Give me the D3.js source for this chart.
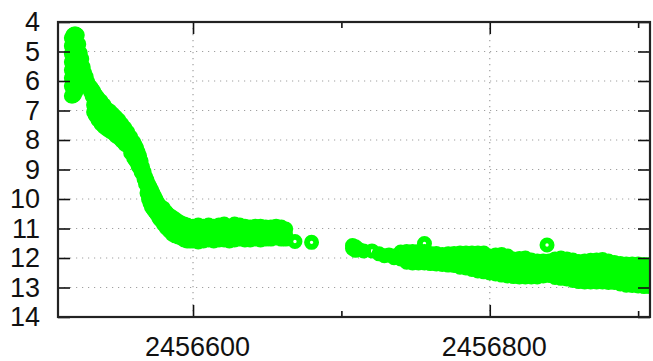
<!DOCTYPE html>
<html><head><meta charset="utf-8">
<script src="https://cdn.jsdelivr.net/npm/d3@7"></script>
<style>html,body{margin:0;padding:0;background:#fff;} svg{display:block;}</style>
</head><body><svg id="chart" width="653" height="361"></svg>
<script>
// ---- data (times are JD - JD0, magnitudes) ----
const JD0 = 2456000;
const xDomain = [2456509, 2456908];
const yDomain = [4, 14];
const yTicks = [4, 5, 6, 7, 8, 9, 10, 11, 12, 13, 14];
const xMajorTicks = [2456600, 2456800];
const xMinorTicks = [2456700, 2456900];

// nightly observations: [day, [magnitudes]]
const riseAndDecline = [
  [518,[4.54,4.81,5.08,5.36,5.63,5.90,6.17,6.51]],
  [519,[4.44,4.71,4.98,5.25,5.53,5.80,6.07,6.31,6.51]],
  [520,[4.41,4.68,4.95,5.22,5.49,5.76,6.03,6.27,6.47]],
  [521,[4.41,4.68,4.95,5.22,5.49,5.76,6.03,6.37]],
  [522,[4.44,4.71,4.98,5.25,5.53,5.80,6.03,6.24]],
  [523,[4.75,5.02,5.29,5.56,5.83,6.10]],
  [524,[5.05,5.29,5.53,5.76,5.97]],
  [525,[5.25,5.49,5.73,5.97]],
  [526,[5.53,5.76,5.97]],
  [527,[5.73,6.00]],
  [528,[5.86,6.10]],
  [529,[6.03,6.20]],
  [530,[6.17,6.27]],
  [531,[6.20,6.37]],
  [532,[6.27,6.51]],
  [533,[6.34,6.58,6.81,7.05]],
  [534,[6.44,6.68,6.92,7.15]],
  [535,[6.51,6.75,6.98,7.22]],
  [536,[6.58,6.81,7.08,7.32]],
  [538,[6.68,6.95,7.22,7.46]],
  [540,[6.81,7.05,7.32,7.56]],
  [542,[6.95,7.19,7.42,7.63]],
  [544,[7.02,7.25,7.49,7.70]],
  [546,[7.12,7.36,7.56,7.76]],
  [548,[7.22,7.42,7.66,7.86]],
  [550,[7.32,7.53,7.73,7.93]],
  [552,[7.46,7.66,7.86,8.03]],
  [554,[7.59,7.80,7.97,8.14]],
  [556,[7.73,7.90,8.07,8.20]],
  [558,[7.90,8.07,8.27,8.44]],
  [560,[8.07,8.24,8.44,8.61]],
  [561,[8.17,8.41,8.68]],
  [562,[8.27,8.51,8.75]],
  [563,[8.41,8.64,8.88]],
  [564,[8.54,8.75,8.95]],
  [565,[8.71,8.92,9.08]],
  [566,[8.92,9.15]],
  [567,[9.08,9.32]],
  [568,[9.25,9.49]],
  [569,[9.36,9.56,9.80]],
  [570,[9.49,9.73,10.00]],
  [571,[9.59,9.86,10.14]],
  [572,[9.69,9.97,10.27]],
  [573,[9.80,10.07,10.34]],
  [574,[9.90,10.17,10.41]],
  [575,[10.00,10.24,10.47]],
  [576,[10.10,10.34,10.54]],
  [577,[10.20,10.44,10.64]],
  [578,[10.24,10.47,10.71]],
  [580,[10.31,10.58,10.85]],
  [582,[10.44,10.71,10.98]],
  [584,[10.54,10.81,11.08]],
  [586,[10.61,10.88,11.19]],
  [588,[10.68,10.98,11.25]],
  [590,[10.75,11.02,11.29]],
  [592,[10.81,11.08,11.32]],
  [594,[10.85,11.12,11.39]],
  [596,[10.88,11.15,11.42]],
  [598,[10.92,11.15,11.42]]
];

const plateau = [
  [600,[10.92,11.15,11.42]],
  [603.5,[10.88,11.15,11.46]],
  [607,[10.92,11.19,11.42]],
  [610.5,[10.88,11.15,11.39]],
  [614,[10.92,11.15,11.42]],
  [617.5,[10.88,11.12,11.39]],
  [621,[10.85,11.12,11.39]],
  [624.5,[10.92,11.15,11.42]],
  [628,[10.85,11.12,11.39]],
  [631.5,[10.88,11.12,11.36]],
  [635,[10.92,11.15,11.39]],
  [638.5,[10.95,11.15,11.39]],
  [642,[10.92,11.12,11.36]],
  [645.5,[10.92,11.15,11.39]],
  [649,[10.95,11.15,11.36]],
  [652.5,[10.95,11.15,11.36]],
  [656,[10.92,11.12,11.32]],
  [659.5,[10.95,11.15,11.36]],
  [662.5,[11.02,11.22,11.36]],
  [668.7,[11.44]],
  [679.9,[11.47]]
];

const lateDecline = [
  [707.5,[11.58,11.68]], [709.5,[11.62,11.74]], [711.5,[11.70]], [715,[11.76]],
  [720.6,[11.76]], [725.4,[11.86]], [729,[11.92]], [732.1,[11.90]], [735.5,[11.93,11.99]],
  [740,[11.80,12.03]],
  [744,[11.78,11.97,12.14]],
  [748,[11.78,11.97,12.17]],
  [752,[11.78,11.97,12.17]],
  [756,[11.51,11.78,11.97,12.17]],
  [760,[11.85,12.02,12.19]],
  [764,[11.85,12.03,12.20]],
  [768,[11.88,12.05,12.22]],
  [772,[11.86,12.05,12.24]],
  [776,[11.85,12.03,12.25]],
  [780,[11.83,12.00,12.15,12.31]],
  [784,[11.83,12.00,12.17,12.34]],
  [788,[11.83,12.02,12.20,12.39]],
  [792,[11.83,12.03,12.24,12.44]],
  [796,[11.83,12.04,12.26,12.47]],
  [800,[11.93,12.12,12.32,12.51]],
  [804,[11.90,12.11,12.33,12.54]],
  [808,[11.88,12.11,12.35,12.58]],
  [812,[11.93,12.16,12.38,12.61]],
  [816,[12.03,12.23,12.43,12.63]],
  [820,[12.02,12.23,12.43,12.64]],
  [824,[12.00,12.21,12.43,12.64]],
  [828,[12.07,12.26,12.45,12.64]],
  [832,[12.10,12.28,12.46,12.64]],
  [836,[12.10,12.27,12.44,12.61]],
  [838.6,[11.56]],
  [840,[12.10,12.26,12.43,12.59]],
  [844,[12.03,12.24,12.45,12.66]],
  [848,[12.00,12.23,12.46,12.69]],
  [852,[12.03,12.26,12.49,12.71]],
  [856,[12.07,12.30,12.53,12.76]],
  [860,[12.12,12.35,12.57,12.80]],
  [864,[12.10,12.34,12.58,12.81]],
  [868,[12.08,12.33,12.57,12.81]],
  [872,[12.07,12.32,12.57,12.81]],
  [876,[12.05,12.31,12.56,12.81]],
  [880,[12.10,12.35,12.59,12.83]],
  [884,[12.15,12.38,12.60,12.83]],
  [888,[12.19,12.42,12.65,12.88]],
  [892,[12.20,12.44,12.68,12.92]],
  [896,[12.20,12.45,12.69,12.93]],
  [900,[12.20,12.45,12.70,12.95]],
  [904,[12.22,12.47,12.72,12.97]],
  [908,[12.22,12.47,12.72,12.97]]
];

// ---- drawing ----
const W = 653, H = 361;
const plot = {left: 58, right: 650, top: 22, bottom: 317};
const svg = d3.select("#chart");
svg.append("rect").attr("width", W).attr("height", H).attr("fill", "#fff");

const x = d3.scaleLinear().domain(xDomain).range([plot.left, plot.right]);
const y = d3.scaleLinear().domain(yDomain).range([plot.top, plot.bottom]);

const font = "'Liberation Sans', Arial, Helvetica, sans-serif";

// grid
const grid = svg.append("g").attr("stroke", "#a0a0a0").attr("stroke-width", 1.2)
  .attr("stroke-dasharray", "1.2,4.8").attr("fill", "none");
grid.selectAll("line.h").data(yTicks.slice(1, -1)).join("line").attr("class", "h")
  .attr("x1", plot.left).attr("x2", plot.right)
  .attr("y1", d => y(d)).attr("y2", d => y(d));
grid.selectAll("line.v").data(xMajorTicks).join("line").attr("class", "v")
  .attr("x1", d => x(d)).attr("x2", d => x(d))
  .attr("y1", plot.top).attr("y2", plot.bottom);

// data points
svg.append("defs").append("clipPath").attr("id", "clip")
  .append("rect").attr("x", plot.left).attr("y", plot.top)
  .attr("width", plot.right - plot.left).attr("height", plot.bottom - plot.top);

const points = [];
[riseAndDecline, plateau, lateDecline].forEach(series =>
  series.forEach(([t, mags]) => mags.forEach(m => points.push({t: t + JD0, m}))));

svg.append("g").attr("clip-path", "url(#clip)")
  .selectAll("circle").data(points).join("circle")
  .attr("cx", d => x(d.t)).attr("cy", d => y(d.m)).attr("r", 4.6)
  .attr("fill", "none").attr("stroke", "#00ff00").attr("stroke-width", 5.8);

// axes
function styleAxis(g) {
  g.select(".domain").remove();
  g.selectAll(".tick line").attr("stroke", "#111").attr("stroke-width", 1.6);
  g.selectAll(".tick text").attr("fill", "#111").attr("font-family", font).attr("font-size", 27);
}
svg.append("g").attr("transform", `translate(${plot.left},0)`)
  .call(d3.axisLeft(y).tickValues(yTicks).tickSizeInner(-12).tickSizeOuter(0).tickPadding(18))
  .call(styleAxis);
svg.append("g").attr("transform", `translate(${plot.right},0)`)
  .call(d3.axisRight(y).tickValues(yTicks).tickSizeInner(-12).tickSizeOuter(0).tickFormat(""))
  .call(styleAxis);
svg.append("g").attr("transform", `translate(0,${plot.bottom})`)
  .call(d3.axisBottom(x).tickValues(xMajorTicks).tickSizeInner(-12).tickSizeOuter(0)
    .tickPadding(19.5).tickFormat(d3.format("d")))
  .call(styleAxis)
  .call(g => g.selectAll(".tick text").attr("dx", 4));
svg.append("g").attr("transform", `translate(0,${plot.bottom})`)
  .call(d3.axisBottom(x).tickValues(xMinorTicks).tickSizeInner(-6).tickSizeOuter(0).tickFormat(""))
  .call(styleAxis);
svg.append("g").attr("transform", `translate(0,${plot.top})`)
  .call(d3.axisTop(x).tickValues(xMajorTicks).tickSizeInner(-12).tickSizeOuter(0).tickFormat(""))
  .call(styleAxis);
svg.append("g").attr("transform", `translate(0,${plot.top})`)
  .call(d3.axisTop(x).tickValues(xMinorTicks).tickSizeInner(-6).tickSizeOuter(0).tickFormat(""))
  .call(styleAxis);

// frame
svg.append("rect").attr("x", plot.left).attr("y", plot.top)
  .attr("width", plot.right - plot.left).attr("height", plot.bottom - plot.top)
  .attr("fill", "none").attr("stroke", "#222").attr("stroke-width", 2.2);
</script></body></html>
